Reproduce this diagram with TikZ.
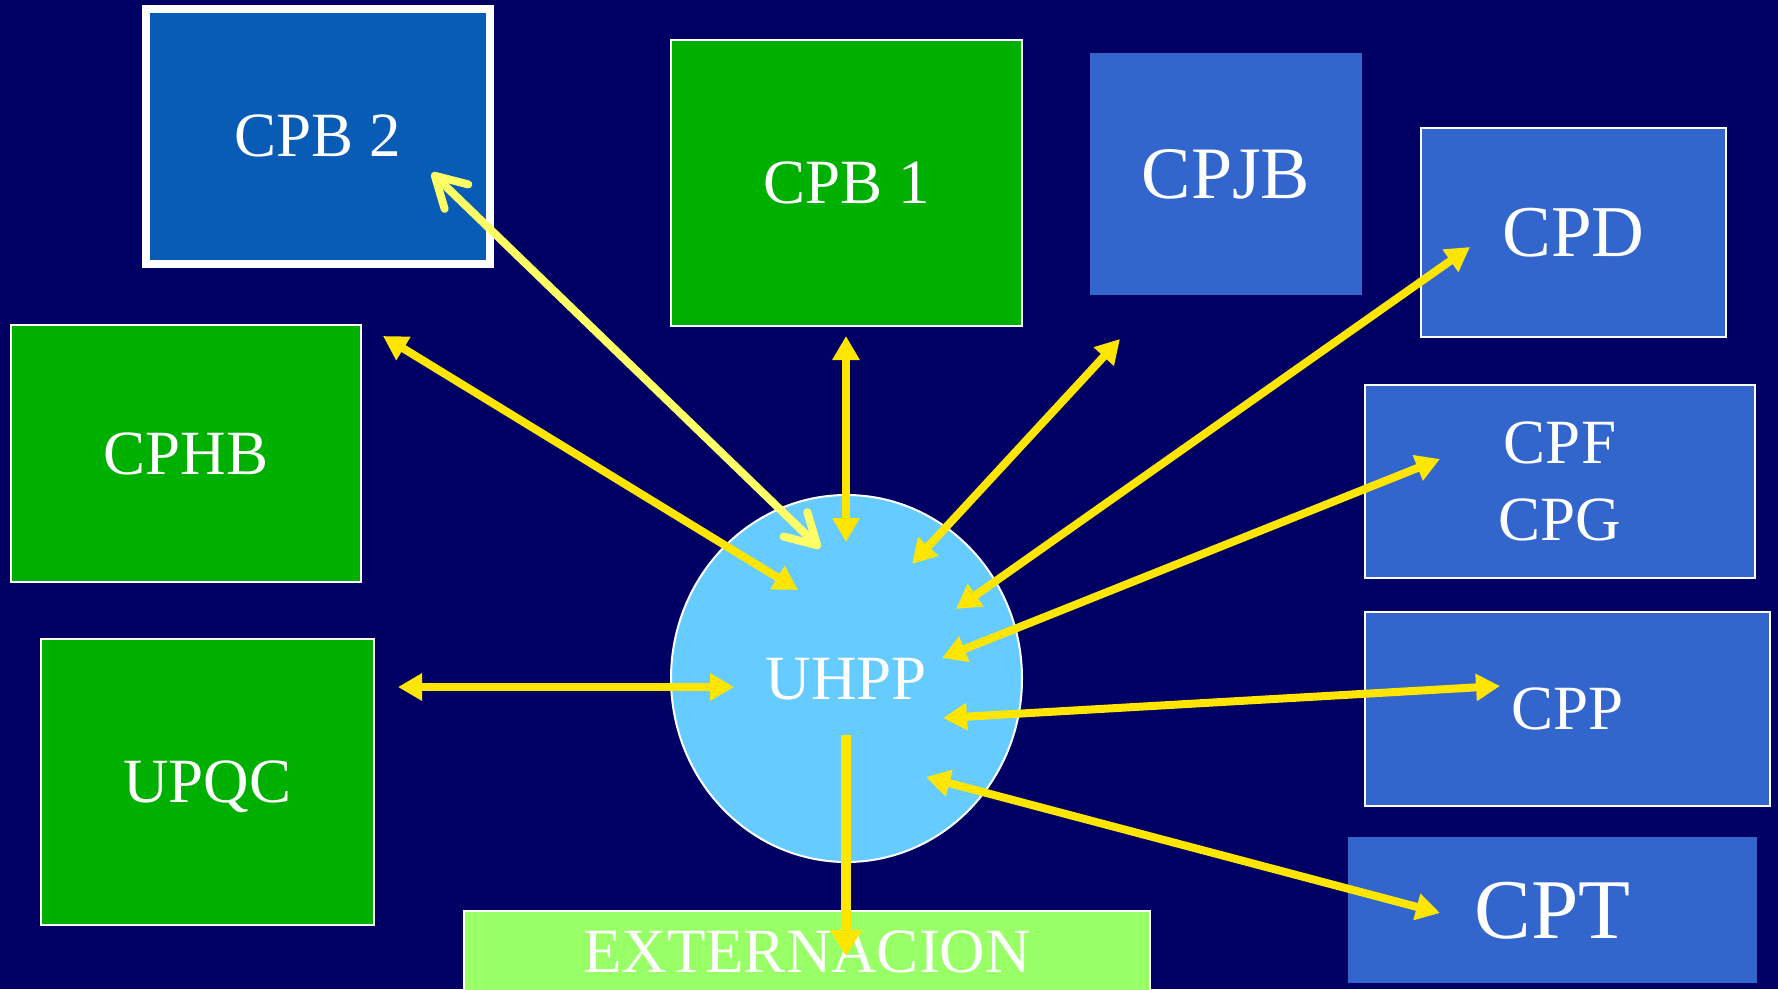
\documentclass[tikz,border=0pt]{standalone}
\usepackage{fontspec}
\setmainfont{Liberation Serif}
\usetikzlibrary{arrows.meta,shadows,shapes.geometric}
\definecolor{bgnavy}{HTML}{000064}
\definecolor{arrowyel}{HTML}{FFE600}
\definecolor{paleyel}{HTML}{FFFF66}
\definecolor{boxgreen}{HTML}{00B000}
\definecolor{darkblue}{HTML}{085CB6}
\definecolor{midblue}{HTML}{3366CC}
\definecolor{skyblue}{HTML}{66CCFF}
\definecolor{limegreen}{HTML}{99FF66}
\begin{document}
\begin{tikzpicture}[x=1pt,y=-1pt,
  box/.style={rectangle, inner sep=0pt, outer sep=0pt, draw=white, line width=2pt,
    text=white, align=center, text depth=0pt, font=\fontsize{63}{77}\selectfont},
  nobox/.style={box, draw=none},
  dbl/.style={draw=arrowyel, line width=8pt,
    {Triangle[length=24pt,width=26pt]}-{Triangle[length=24pt,width=26pt]}},
  single/.style={draw=arrowyel, line width=10pt, -{Triangle[length=26pt,width=30pt]}},
  barb/.style={draw=paleyel, line width=8pt, line cap=round,
    {Straight Barb[length=30pt,width=34pt,line cap=round,line join=round]}-{Straight Barb[length=30pt,width=34pt,line cap=round,line join=round]}}
]
\fill[bgnavy] (0,0) rectangle (1778,989);
\useasboundingbox (0,0) rectangle (1778,989);

% boxes
\node[box, fill=darkblue, line width=8pt, minimum width=344pt, minimum height=255pt,
  drop shadow={shadow xshift=4pt, shadow yshift=-4pt, fill=black, opacity=1}] (cpb2) at (318,136) {CPB 2};
\node[box, fill=boxgreen, minimum width=351pt, minimum height=286pt] (cpb1) at (846.5,182.5) {CPB 1};
\node[nobox, fill=midblue, minimum width=272pt, minimum height=242pt, font=\fontsize{74}{80}\selectfont] (cpjb) at (1226,174) {CPJB};
\node[box, fill=midblue, minimum width=305pt, minimum height=209pt, font=\fontsize{73}{80}\selectfont] (cpd) at (1573.5,232.5) {CPD};
\node[box, fill=midblue, minimum width=390pt, minimum height=193pt] (cpfg) at (1560,481.5) {CPF\\CPG};
\node[box, fill=midblue, minimum width=405pt, minimum height=194pt] (cpp) at (1567.5,709) {CPP};
\node[nobox, fill=midblue, minimum width=409pt, minimum height=146pt, font=\fontsize{85}{90}\selectfont] (cpt) at (1552.5,910) {CPT};
\node[box, fill=boxgreen, minimum width=350pt, minimum height=257pt] (cphb) at (186,453.5) {CPHB};
\node[box, fill=boxgreen, minimum width=333pt, minimum height=286pt] (upqc) at (207.5,782) {UPQC};
\node[box, ellipse, fill=skyblue, minimum width=351pt, minimum height=367pt] (uhpp) at (846.5,678.5) {UHPP};
\node[box, fill=limegreen, minimum width=686pt, minimum height=82pt] (ext) at (807,952) {EXTERNACION};

% arrow end points
\coordinate (p1a) at (432,173);  \coordinate (p1b) at (820,548);
\coordinate (p2a) at (383,336);  \coordinate (p2b) at (798,590);
\coordinate (p3a) at (846,336);  \coordinate (p3b) at (846,542);
\coordinate (p4a) at (1120,339); \coordinate (p4b) at (912,564);
\coordinate (p5a) at (1470,247); \coordinate (p5b) at (956,609);
\coordinate (p6a) at (1440,459); \coordinate (p6b) at (942,658);
\coordinate (p7a) at (1500,686); \coordinate (p7b) at (943,718);
\coordinate (p8a) at (1440,913); \coordinate (p8b) at (926,777);
\coordinate (p9a) at (398,687);  \coordinate (p9b) at (734,687);
\coordinate (p10a) at (846,735); \coordinate (p10b) at (846,956);

% connectors
\draw[barb] (p1a) -- (p1b);
\draw[dbl] (p2a) -- (p2b);
\draw[dbl] (p3a) -- (p3b);
\draw[dbl] (p4a) -- (p4b);
\draw[dbl] (p5a) -- (p5b);
\draw[dbl] (p6a) -- (p6b);
\draw[dbl] (p7a) -- (p7b);
\draw[dbl] (p8a) -- (p8b);
\draw[dbl] (p9a) -- (p9b);
\draw[single] (p10a) -- (p10b);
\end{tikzpicture}
\end{document}
